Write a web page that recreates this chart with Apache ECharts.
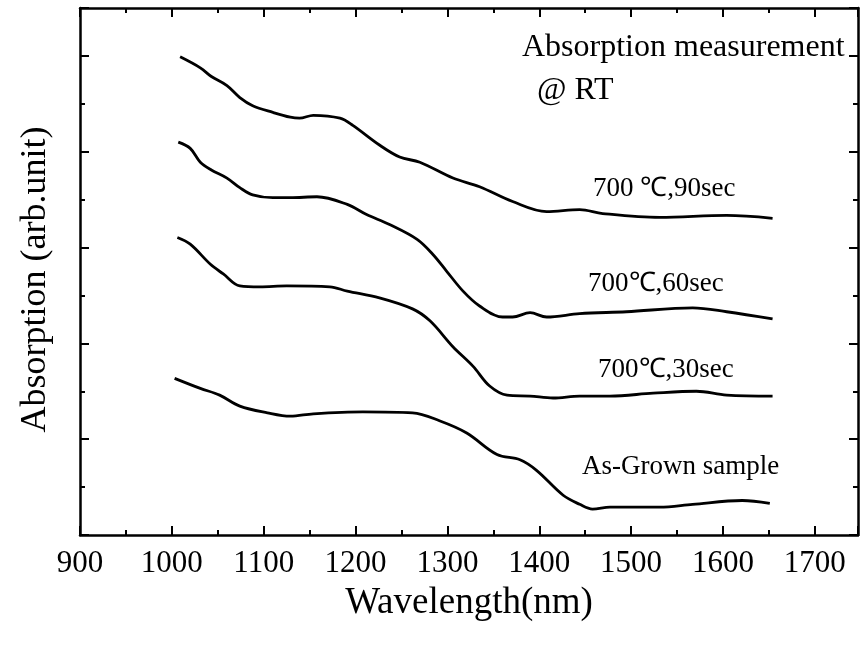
<!DOCTYPE html>
<html>
<head>
<meta charset="utf-8">
<script src="https://cdn.jsdelivr.net/npm/echarts@6/dist/echarts.min.js"></script>
<style>html,body{margin:0;padding:0;background:#fff}#c{width:862px;height:651px}</style>
</head>
<body>
<div id="c"></div>
<script>
// Wavelength (nm) and absorption (arb. unit, offset stacked)
const wl90 = [1009,1031,1043,1060,1074,1088,1110,1129,1139,1154,1183,1197,1226,1248,1270,1306,1335,1371,1408,1444,1469,1531,1604,1654];
const ab90 = [9.98,9.75,9.57,9.38,9.13,8.96,8.82,8.72,8.70,8.76,8.70,8.55,8.14,7.89,7.78,7.45,7.27,6.96,6.75,6.79,6.71,6.63,6.67,6.61];

const wl60 = [1007,1020,1031,1043,1060,1074,1088,1110,1129,1158,1191,1212,1237,1267,1284,1299,1317,1335,1360,1371,1390,1408,1444,1495,1567,1604,1654];
const ab60 = [8.20,8.07,7.78,7.62,7.45,7.25,7.10,7.04,7.04,7.06,6.90,6.69,6.48,6.17,5.86,5.51,5.09,4.78,4.55,4.55,4.64,4.55,4.62,4.66,4.74,4.66,4.51];

const wl30 = [1006,1020,1042,1056,1074,1096,1125,1172,1191,1226,1262,1281,1306,1328,1346,1365,1390,1415,1444,1477,1524,1571,1604,1654];
const ab30 = [6.21,6.07,5.65,5.45,5.20,5.18,5.20,5.18,5.09,4.95,4.72,4.47,3.93,3.52,3.11,2.92,2.90,2.86,2.90,2.90,2.96,3.00,2.92,2.90];

const wlAG = [1003,1031,1052,1074,1104,1129,1154,1208,1262,1292,1321,1354,1379,1397,1426,1444,1458,1477,1531,1567,1621,1651];
const abAG = [3.27,3.06,2.92,2.69,2.55,2.48,2.53,2.57,2.55,2.38,2.13,1.68,1.57,1.35,0.83,0.64,0.54,0.58,0.58,0.64,0.72,0.66];

const xTickLabels = ['900','1000','1100','1200','1300','1400','1500','1600','1700'];

const FONT = '"Liberation Serif", "Times New Roman", serif';
const pair = (xs, ys) => xs.map((x, i) => [x, ys[i]]);

const axisCommon = {
  axisLine: { show: true, onZero: false, lineStyle: { color: '#000', width: 2.5 } },
  axisTick: { show: true, inside: true, length: 9, lineStyle: { color: '#000', width: 2 } },
  minorTick: { show: true, splitNumber: 2, length: 5, lineStyle: { color: '#000', width: 2 } },
  splitLine: { show: false },
  minorSplitLine: { show: false }
};

const xBase = { type: 'value', min: 900, max: 1747, interval: 100 };
const yBase = { type: 'value', min: 0, max: 11, interval: 2 };

const chart = echarts.init(document.getElementById('c'), null, { renderer: 'canvas' });

const lineStyle = { color: '#000', width: 2.8 };
function mkSeries(name, xs, ys) {
  return {
    name, type: 'line', data: pair(xs, ys), smooth: 0.35, showSymbol: false,
    lineStyle, itemStyle: { color: '#000' }, xAxisIndex: 0, yAxisIndex: 0
  };
}

chart.setOption({
  backgroundColor: '#fff',
  animation: false,
  grid: { left: 80, right: 4, top: 8, bottom: 116, containLabel: false },
  xAxis: [
    Object.assign({}, xBase, axisCommon, {
      position: 'bottom',
      name: 'Wavelength(nm)', nameLocation: 'middle', nameGap: 50,
      nameTextStyle: { fontFamily: FONT, fontSize: 37, color: '#000' },
      axisLabel: {
        show: true, margin: 13, fontFamily: FONT, fontSize: 31, color: '#000',
        showMaxLabel: false,
        formatter: v => { const i = Math.round((v - 900) / 100); return (v - 900) % 100 === 0 && xTickLabels[i] ? xTickLabels[i] : ''; }
      }
    }),
    Object.assign({}, xBase, axisCommon, { position: 'top', axisLabel: { show: false } })
  ],
  yAxis: [
    Object.assign({}, yBase, axisCommon, {
      position: 'left',
      name: 'Absorption (arb.unit)', nameLocation: 'middle', nameGap: 26,
      nameTextStyle: { fontFamily: FONT, fontSize: 36, color: '#000', padding: [0, 16, 0, 0] },
      axisLabel: { show: false }
    }),
    Object.assign({}, yBase, axisCommon, { position: 'right', axisLabel: { show: false } })
  ],
  series: [
    mkSeries('700 ℃,90sec', wl90, ab90),
    mkSeries('700℃,60sec', wl60, ab60),
    mkSeries('700℃,30sec', wl30, ab30),
    mkSeries('As-Grown sample', wlAG, abAG)
  ],
  graphic: [
    { type: 'text', left: 522, top: 32, style: { text: 'Absorption measurement', font: '32px ' + FONT, fill: '#000' } },
    { type: 'text', left: 537, top: 75, style: { text: '@ RT', font: '32px ' + FONT, fill: '#000' } },
    { type: 'text', left: 593, top: 175, style: { text: '700 ℃,90sec', font: '27px ' + FONT, fill: '#000' } },
    { type: 'text', left: 588, top: 270, style: { text: '700℃,60sec', font: '27px ' + FONT, fill: '#000' } },
    { type: 'text', left: 598, top: 356, style: { text: '700℃,30sec', font: '27px ' + FONT, fill: '#000' } },
    { type: 'text', left: 582, top: 453, style: { text: 'As-Grown sample', font: '27px ' + FONT, fill: '#000' } }
  ]
});
</script>
</body>
</html>
